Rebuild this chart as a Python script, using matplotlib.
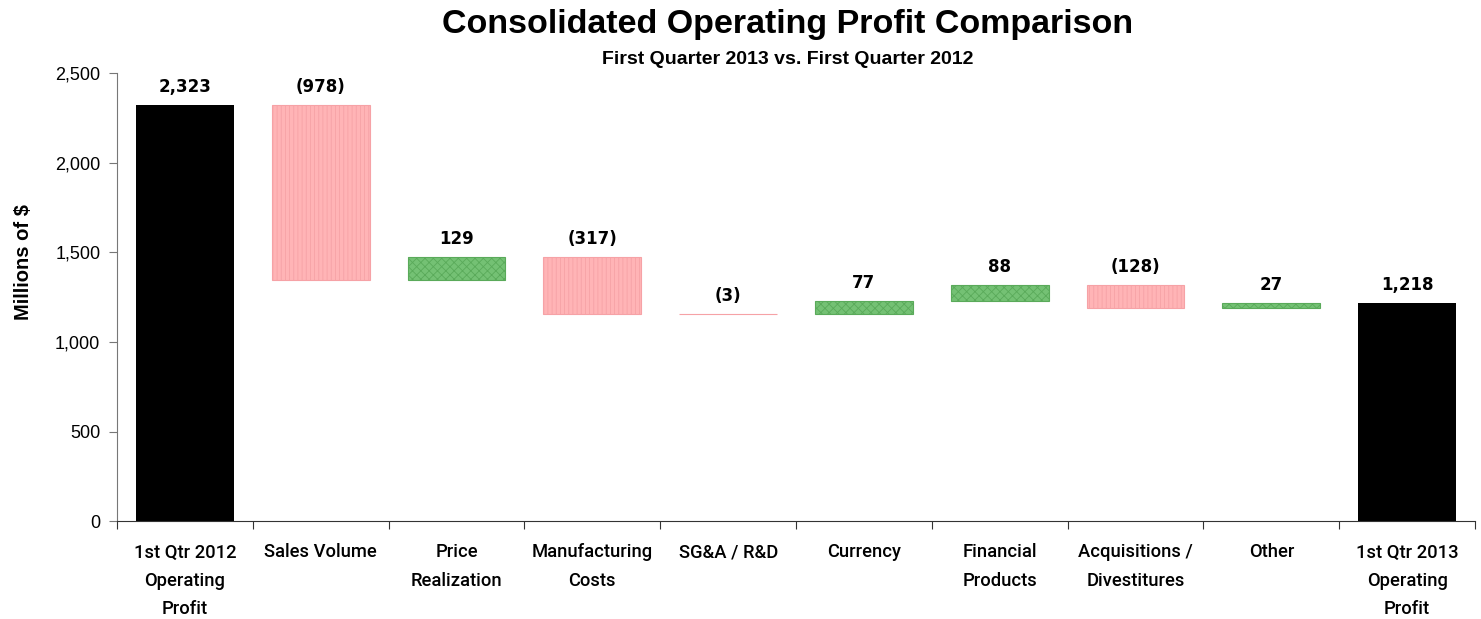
import matplotlib
matplotlib.use("Agg")
import matplotlib.pyplot as plt
import numpy as np

categories = ["1st Qtr 2012\nOperating\nProfit", "Sales Volume", "Price\nRealization",
              "Manufacturing\nCosts", "SG&A / R&D", "Currency", "Financial\nProducts",
              "Acquisitions /\nDivestitures", "Other", "1st Qtr 2013\nOperating\nProfit"]
changes = [2323, -978, 129, -317, -3, 77, 88, -128, 27, 1218]
labels = ["2,323", "(978)", "129", "(317)", "(3)", "77", "88", "(128)", "27", "1,218"]
yticks = [0, 500, 1000, 1500, 2000, 2500]
ytick_labels = ["0", "500", "1,000", "1,500", "2,000", "2,500"]

plt.rcParams['font.family'] = ['Liberation Sans', 'DejaVu Sans']
plt.rcParams['hatch.linewidth'] = 0.6

fig = plt.figure(figsize=(14.81, 6.19), dpi=100)
ax = fig.add_axes([0.079, 0.158, 0.917, 0.724])

n = len(categories)
x = np.arange(n)
width = 0.72
running = 0
for i, v in enumerate(changes):
    if i == 0 or i == n - 1:
        bottom, height = 0, v
        fc, ec, hatch, lw = "black", "black", None, 0
        top = v
        if i == 0:
            running = v
    else:
        start = running
        end = running + v
        bottom = min(start, end)
        height = abs(v)
        running = end
        top = max(start, end)
        if v < 0:
            fc, ec, hatch = "#FFB4B6", "#F6A2A6", "||||"
        else:
            fc, ec, hatch = "#74C174", "#5AAA5A", "xxxx"
        lw = 0.8
    ax.bar(x[i], height, bottom=bottom, width=width, color=fc, edgecolor=ec,
           hatch=hatch, linewidth=lw)
    ax.text(x[i], top + 50, labels[i], ha="center", va="bottom",
            fontsize=12, fontweight="bold", family=["DejaVu Sans"])

ax.set_xlim(-0.5, n - 0.5)
ax.set_ylim(0, 2500)
ax.set_yticks(yticks)
ax.set_yticklabels(ytick_labels, fontsize=13)
ax.set_xticks(np.arange(n + 1) - 0.5)
ax.set_xticklabels([])
ax.set_xticks(x, minor=True)
ax.set_xticklabels(categories, minor=True, fontsize=13.2, linespacing=1.72, va="top",
                   family=["Roboto", "Liberation Sans"], fontweight="medium")
ax.tick_params(axis="x", which="minor", length=0, pad=16)
ax.tick_params(axis="x", which="major", length=6, direction="out", color="#333333")
ax.tick_params(axis="y", length=6, direction="out", color="#777777", pad=6)

for s in ["top", "right"]:
    ax.spines[s].set_visible(False)
ax.spines["left"].set_color("#777777")
ax.spines["bottom"].set_color("#333333")

fig.text(0.016, 1 - 262 / 619, "Millions of $", rotation=90, ha="center", va="center",
         fontsize=14.5, fontweight="heavy")

fig.text(0.532, 1 - 25 / 619, "Consolidated Operating Profit Comparison", ha="center", va="center",
         fontsize=24.5, fontweight="bold")
fig.text(0.532, 1 - 59 / 619, "First Quarter 2013 vs. First Quarter 2012", ha="center", va="center",
         fontsize=14, fontweight="bold")

fig.savefig("out.png", dpi=100)
